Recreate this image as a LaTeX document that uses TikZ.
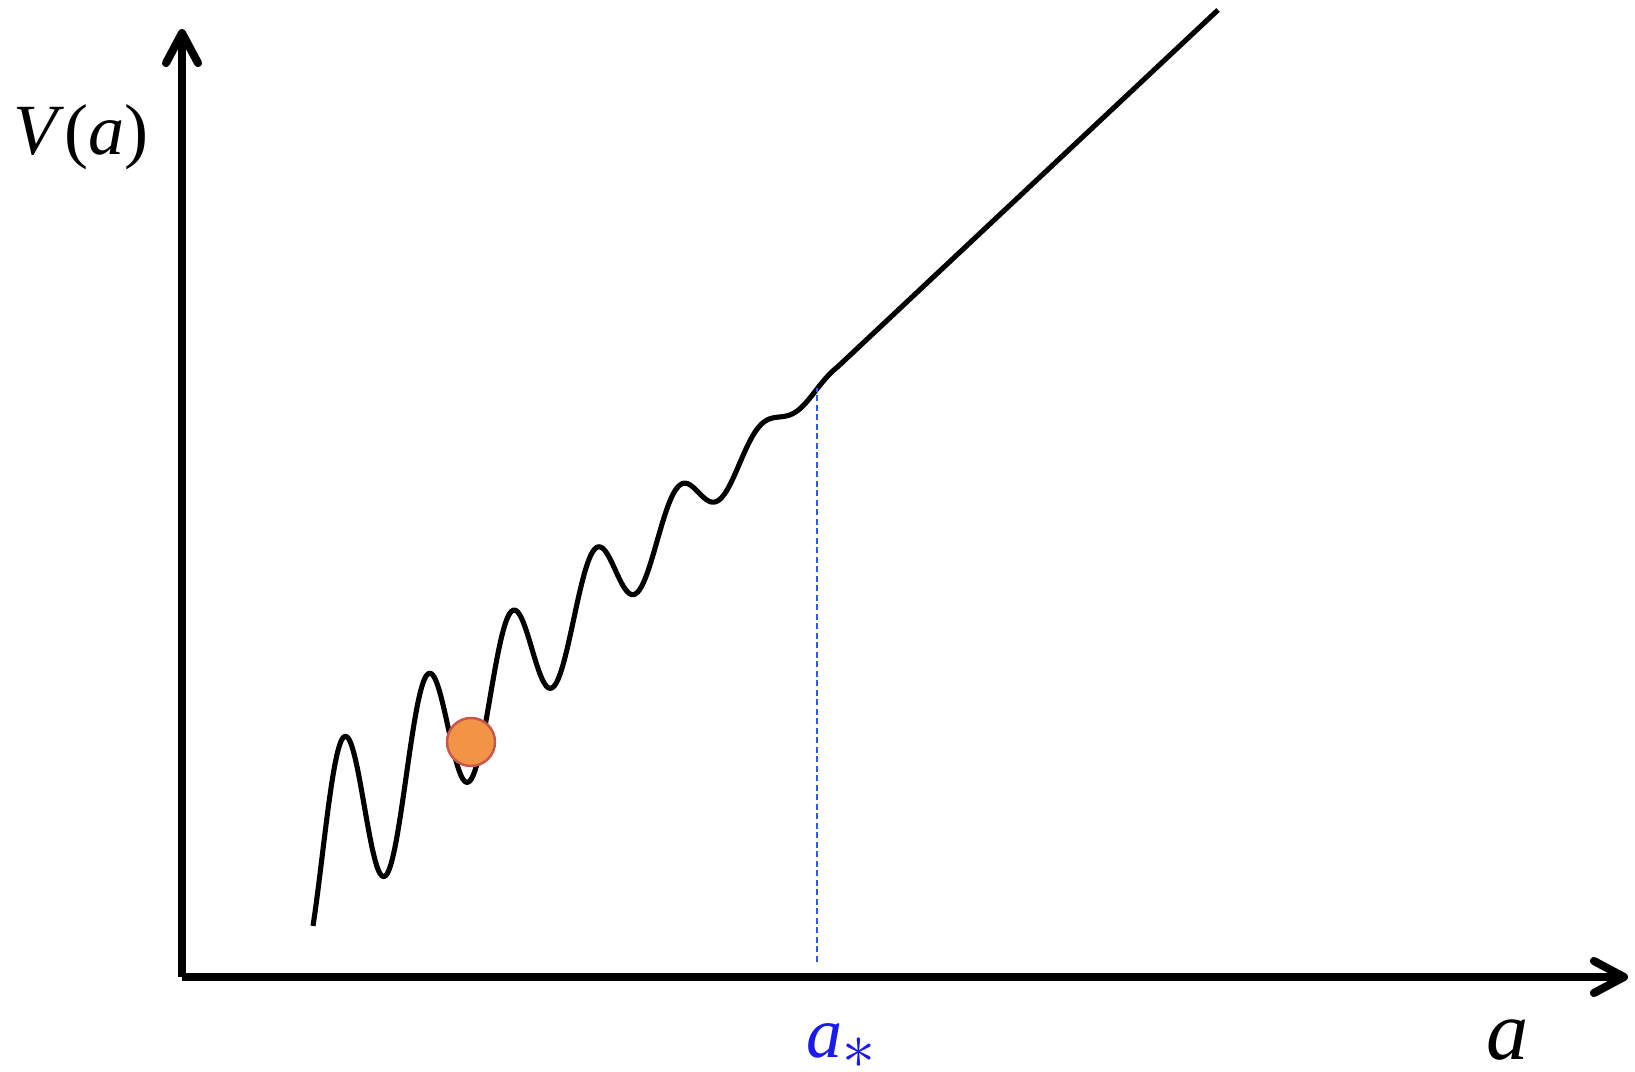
\documentclass[tikz,border=0pt]{standalone}
\usepackage{fontspec}
\setmainfont{Liberation Serif}
\usetikzlibrary{arrows.meta}
\definecolor{ballfill}{HTML}{F29446}
\definecolor{balledge}{HTML}{C8564C}
\definecolor{dashblue}{HTML}{3355FF}
\definecolor{labelblue}{HTML}{1A1AF0}

\begin{document}
\begin{tikzpicture}[x=0.01cm, y=0.01cm,
  axis/.style={line width=2.3pt, -{Straight Barb[length=3mm, width=3.2mm, round]}},
  potential/.style={line width=1.45pt, line join=round},
  threshold/.style={dashblue, line width=0.6pt, dash pattern=on 0.6mm off 0.35mm},
  ball/.style={circle, minimum size=4.8mm, inner sep=0pt, fill=ballfill, draw=balledge, line width=0.7pt},
  biglabel/.style={inner sep=0pt, anchor=base west, font=\fontsize{20.5}{24}\selectfont}]
  \useasboundingbox (0,0) rectangle (1635,1072);
  % axes
  \coordinate (O) at (182,95);
  \coordinate (ytip) at (182,1043);
  \coordinate (xtip) at (1628,95);
  \draw[axis] (O) -- (ytip);
  \draw[axis] (O) -- (xtip);
  % potential: damped wiggles, then straight
  \coordinate (lineend) at (1218,1062);
  \draw[potential] plot[domain=313:838, samples=260, smooth]
    (\x, {262 + 0.9375*(\x-365) + max(0, 89-0.188*(\x-365))*sin(4.285714*(\x-323))})
    -- (lineend);
  % threshold a_*
  \coordinate (abase) at (817,110);
  \coordinate (astar) at (817,684);
  \draw[threshold] (abase) -- (astar);
  % ball in a local minimum
  \node[ball] (marble) at (471,330) {};
  % labels
  \node[biglabel] (Vlabel) at (13,917) {\textit{V}(\textit{a})};
  \node[biglabel, text=labelblue] (astarlabel) at (806,14) {\textit{a}$_{\scalebox{1.3}{$\scriptstyle\ast$}}$};
  \node[biglabel, font=\fontsize{24}{28}\selectfont] (alabel) at (1486,12) {\textit{a}};
\end{tikzpicture}
\end{document}
